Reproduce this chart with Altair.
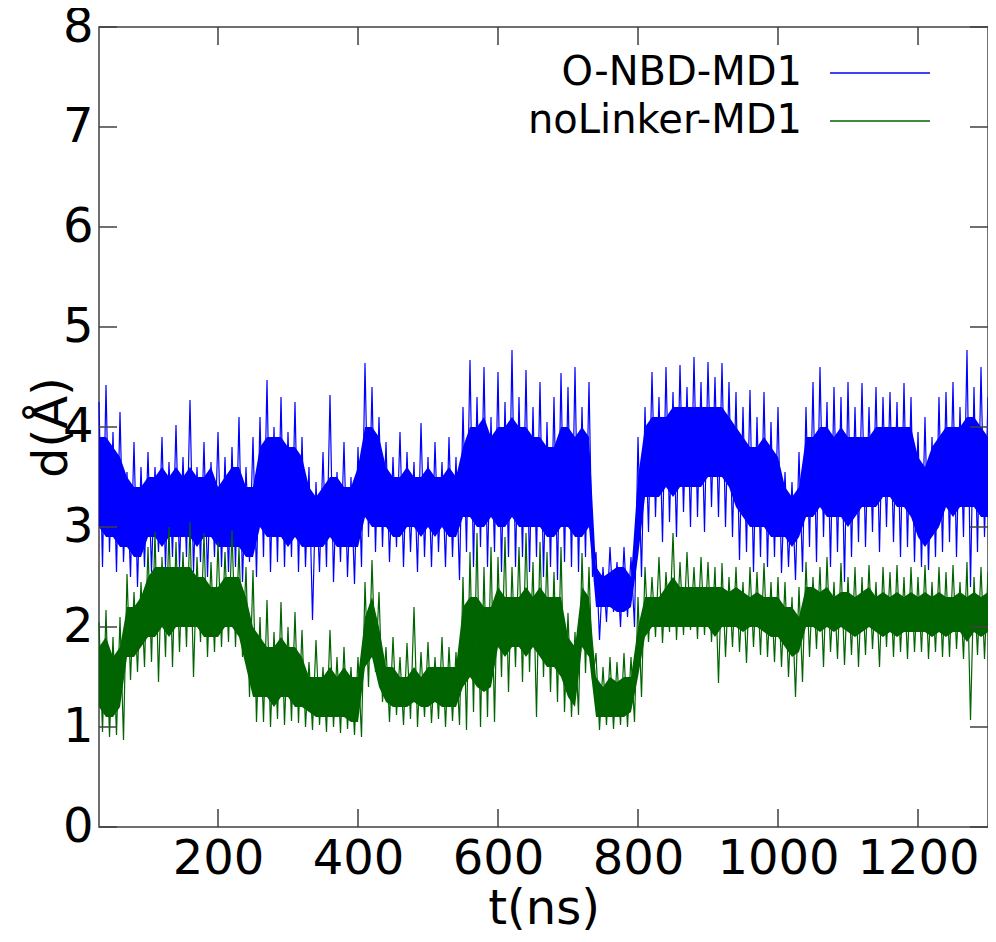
import altair as alt
import pandas as pd

# ---------------- data ----------------
SERIES = ["O-NBD-MD1", "noLinker-MD1"]
COLORS = ["#0000ff", "#006400"]

T_START, T_STEP, T_END = 30, 10, 1300
X_TICKS = [200, 400, 600, 800, 1000, 1200]
Y_TICKS = [0, 1, 2, 3, 4, 5, 6, 7, 8]

# O-NBD-MD1 (every 10 ns from 30 ns): spike tops, spike bottoms (read half a step later),
# and the dense band's top and bottom
BLUE_HI = [4.25, 4.42, 3.95, 4.15, 3.55, 3.85, 3.6, 3.75, 3.6, 3.9, 3.65, 4.02,
           3.7, 4.27, 3.6, 3.85, 3.65, 3.95, 3.7, 3.8, 4.1, 3.6, 3.9,
           4.1, 4.47, 4.0, 4.3, 3.95, 4.25, 3.9, 3.6, 3.45, 3.75, 4.32, 3.55, 3.85, 3.5, 3.8,
           4.64, 4.4, 4.1, 3.85, 3.7, 3.95, 3.75, 3.65, 4.04, 3.7, 3.85, 3.65, 3.9, 3.7,
           4.2, 4.67, 4.3, 4.6, 4.1, 4.55, 4.25, 4.77, 4.3, 4.57, 4.2, 4.45, 4.05, 4.3, 4.54,
           4.4, 4.6, 4.2, 4.45, 2.75, 2.6, 2.8, 2.65, 2.8, 2.7, 3.9,
           4.2, 4.55, 4.3, 4.6, 4.35, 4.62, 4.4, 4.7, 4.45, 4.65, 4.5, 4.64, 4.45, 4.35,
           4.2, 4.37, 4.1, 4.35, 4.05, 4.2, 3.55, 3.45, 3.75,
           4.2, 4.45, 4.6, 4.25, 4.4, 4.3, 4.45, 4.2, 4.44, 4.2, 4.4, 4.3, 4.35, 4.25, 4.44, 4.3,
           3.95, 4.1, 3.9, 4.3, 4.35, 4.45, 4.2, 4.77, 4.4, 4.6, 4.3]
BLUE_LO = [2.6, 2.75, 2.55, 2.65, 2.5, 2.4, 2.6, 2.55, 2.75, 2.6, 2.7, 2.6,
           2.7, 2.55, 2.65, 2.5, 2.7, 2.6, 2.55, 2.6, 2.45, 2.65, 2.5,
           2.7, 2.55, 2.65, 2.6, 2.7, 2.55, 2.6, 2.07, 2.55, 2.6, 2.45, 2.65, 2.5, 2.43, 2.6,
           2.9, 2.75, 2.8, 2.65, 2.8, 2.6, 2.75, 2.55, 2.7, 2.6, 2.75, 2.6, 2.7, 2.47,
           2.75, 2.6, 2.8, 2.6, 2.75, 2.55, 2.7, 2.6, 2.7, 2.55, 2.7, 2.5, 2.6, 2.47, 2.65,
           2.6, 2.55, 2.7, 2.5, 1.87, 2.05, 2.15, 2.0, 2.1, 2.0, 2.5,
           2.95, 3.1, 2.85, 3.05, 2.9, 3.15, 3.0, 3.1, 2.95, 3.2, 3.1, 3.0, 2.9, 2.67,
           2.75, 2.55, 2.7, 2.6, 2.7, 2.54, 2.6, 2.47, 2.55,
           2.8, 2.65, 2.9, 2.6, 2.75, 2.45, 2.7, 2.85, 2.8, 2.95, 2.75, 3.0, 2.85, 2.7, 2.8, 2.65,
           2.6, 2.57, 2.7, 2.75, 2.85, 2.7, 2.9, 2.4, 2.75, 2.9, 3.0]
BLUE_BAND_HI = [3.9, 3.9, 3.8, 3.7, 3.5, 3.4, 3.4, 3.5, 3.5, 3.6, 3.5, 3.6,
                3.5, 3.6, 3.5, 3.5, 3.6, 3.4, 3.5, 3.6, 3.6, 3.4, 3.4,
                3.8, 3.9, 3.9, 3.9, 3.8, 3.8, 3.7, 3.4, 3.3, 3.4, 3.5, 3.5, 3.4, 3.4, 3.6,
                4.0, 4.0, 3.9, 3.6, 3.5, 3.5, 3.6, 3.5, 3.5, 3.6, 3.5, 3.5, 3.6, 3.5,
                3.8, 4.0, 4.0, 4.1, 3.9, 4.0, 4.0, 4.1, 4.0, 4.0, 3.9, 3.9, 3.8, 3.8, 4.0,
                4.0, 3.9, 4.0, 3.9, 2.6, 2.5, 2.55, 2.6, 2.6, 2.5, 3.5,
                4.0, 4.1, 4.1, 4.1, 4.2, 4.2, 4.2, 4.2, 4.2, 4.2, 4.2, 4.2, 4.1, 4.0,
                3.9, 3.8, 3.8, 3.9, 3.8, 3.7, 3.4, 3.3, 3.4,
                3.9, 3.9, 4.0, 4.0, 3.9, 4.0, 3.9, 3.9, 3.9, 3.9, 4.0, 4.0, 4.0, 4.0, 4.0, 4.0,
                3.7, 3.6, 3.8, 3.9, 4.0, 4.0, 4.0, 4.1, 4.1, 4.0, 3.9]
BLUE_BAND_LO = [3.0, 2.9, 2.9, 2.8, 2.8, 2.7, 2.7, 2.9, 2.9, 2.8, 2.9, 2.9,
                2.9, 2.9, 2.8, 2.9, 2.9, 2.8, 2.8, 2.8, 2.8, 2.7, 2.7,
                3.0, 2.9, 2.9, 2.9, 2.8, 2.9, 2.8, 2.8, 2.8, 2.8, 2.9, 2.8, 2.8, 2.8, 2.8,
                3.1, 3.0, 3.0, 3.0, 2.9, 2.9, 3.0, 3.0, 2.9, 3.0, 2.9, 3.0, 2.9, 2.9,
                3.1, 3.1, 3.0, 3.0, 3.1, 3.0, 3.0, 3.1, 3.0, 3.0, 3.0, 3.0, 2.9, 2.9, 3.0,
                3.0, 2.9, 2.9, 3.0, 2.2, 2.2, 2.2, 2.15, 2.15, 2.2, 2.7,
                3.3, 3.3, 3.3, 3.4, 3.3, 3.4, 3.4, 3.4, 3.4, 3.5, 3.5, 3.5, 3.4, 3.2,
                3.1, 3.0, 3.0, 3.0, 2.9, 2.9, 2.9, 2.8, 2.9,
                3.1, 3.1, 3.2, 3.1, 3.1, 3.1, 3.0, 3.1, 3.2, 3.2, 3.2, 3.3, 3.3, 3.2, 3.2, 3.1,
                2.9, 2.8, 2.9, 3.0, 3.2, 3.1, 3.2, 3.2, 3.2, 3.1, 3.1]

# noLinker-MD1
GREEN_HI = [2.05, 2.17, 1.9, 2.1, 2.53, 2.35, 2.45, 2.8, 2.95, 2.7, 3.0, 2.85,
            2.75, 3.05, 2.7, 2.94, 2.65, 2.85, 2.75, 2.97, 2.8, 2.6, 2.57,
            2.1, 2.27, 1.95, 2.25, 2.0, 2.15, 1.97, 1.65, 1.87, 1.6, 1.97, 1.7, 1.8, 1.6, 1.7,
            2.45, 2.67, 2.35, 1.8, 1.9, 1.7, 1.84, 2.2, 1.75, 1.85, 1.7, 1.9, 1.8, 1.75,
            2.5, 2.75, 2.94, 2.6, 2.8, 2.7, 2.9, 2.6, 2.8, 2.94, 2.65, 2.85, 2.75, 2.55, 2.8,
            2.14, 1.95, 2.74, 2.6, 1.74, 1.6, 1.7, 1.65, 1.74, 1.7, 2.3,
            2.6, 2.5, 2.7, 2.55, 2.94, 2.65, 2.75, 2.6, 2.7, 2.65, 2.6,
            2.64, 2.5, 2.6, 2.45, 2.6, 2.55, 2.64, 2.45, 2.5, 2.45, 2.3, 2.4,
            2.65, 2.5, 2.6, 2.7, 2.45, 2.64, 2.5, 2.6, 2.5, 2.62, 2.45, 2.6, 2.55, 2.62, 2.5, 2.6,
            2.5, 2.62, 2.45, 2.6, 2.55, 2.62, 2.45, 2.65, 2.5, 2.6, 2.55]
GREEN_LO = [0.95, 0.9, 0.92, 0.87, 1.47, 1.55, 1.6, 1.65, 1.45, 1.7, 1.6, 1.75,
            1.8, 1.5, 1.85, 1.7, 1.75, 1.8, 1.85, 1.8, 1.7, 1.3, 1.05,
            1.05, 1.0, 1.08, 1.02, 1.06, 1.04, 1.0, 0.97, 1.02, 0.95, 1.0, 0.94, 0.98, 0.92, 0.9,
            1.4, 1.55, 1.25, 1.05, 1.12, 1.02, 1.08, 1.0, 1.1, 1.04, 1.08, 1.0, 1.06, 1.02,
            0.97, 1.15, 1.0, 1.1, 1.05, 1.5, 1.35, 1.6, 1.45, 1.55, 1.1, 1.5, 1.35, 1.25, 1.15,
            1.1, 1.12, 1.54, 1.47, 0.97, 1.02, 0.98, 1.02, 1.0, 1.05, 1.3,
            1.85, 1.9, 1.84, 1.95, 1.87, 1.92, 1.97, 1.88, 1.92, 1.85, 1.44,
            1.7, 1.8, 1.75, 1.64, 1.8, 1.72, 1.7, 1.65, 1.6, 1.5, 1.3, 1.45,
            1.7, 1.78, 1.6, 1.75, 1.68, 1.62, 1.72, 1.6, 1.72, 1.78, 1.6, 1.8, 1.7, 1.75, 1.68, 1.75,
            1.75, 1.68, 1.75, 1.7, 1.7, 1.78, 1.68, 1.07, 1.72, 1.68, 1.75]
GREEN_BAND_HI = [1.8, 1.9, 1.7, 1.8, 2.2, 2.2, 2.3, 2.5, 2.6, 2.6, 2.6, 2.6,
                 2.6, 2.6, 2.5, 2.5, 2.4, 2.4, 2.5, 2.5, 2.5, 2.3, 2.0,
                 1.9, 1.8, 1.8, 1.9, 1.8, 1.8, 1.7, 1.5, 1.5, 1.5, 1.6, 1.5, 1.6, 1.5, 1.5,
                 2.1, 2.3, 2.0, 1.6, 1.6, 1.5, 1.5, 1.6, 1.5, 1.6, 1.6, 1.6, 1.6, 1.6,
                 2.2, 2.3, 2.3, 2.2, 2.2, 2.4, 2.3, 2.3, 2.3, 2.4, 2.3, 2.4, 2.3, 2.3, 2.3,
                 1.9, 1.8, 2.4, 2.3, 1.5, 1.4, 1.5, 1.45, 1.5, 1.5, 2.0,
                 2.3, 2.3, 2.3, 2.4, 2.5, 2.4, 2.4, 2.4, 2.4, 2.4, 2.4,
                 2.4, 2.35, 2.4, 2.35, 2.3, 2.35, 2.3, 2.3, 2.3, 2.2, 2.2, 2.1,
                 2.4, 2.4, 2.35, 2.4, 2.3, 2.35, 2.35, 2.3, 2.35, 2.4, 2.3, 2.35, 2.3, 2.35, 2.3, 2.35,
                 2.3, 2.35, 2.3, 2.35, 2.3, 2.3, 2.35, 2.3, 2.35, 2.3, 2.35]
GREEN_BAND_LO = [1.2, 1.1, 1.1, 1.2, 1.7, 1.7, 1.8, 1.9, 1.9, 2.0, 1.9, 2.0,
                 2.0, 2.0, 2.0, 1.9, 1.9, 1.9, 2.0, 2.0, 1.9, 1.6, 1.3,
                 1.3, 1.3, 1.2, 1.3, 1.3, 1.2, 1.2, 1.15, 1.1, 1.1, 1.1, 1.1, 1.1, 1.05, 1.05,
                 1.6, 1.7, 1.4, 1.25, 1.2, 1.2, 1.2, 1.25, 1.2, 1.2, 1.25, 1.2, 1.2, 1.2,
                 1.4, 1.5, 1.4, 1.35, 1.4, 1.8, 1.7, 1.8, 1.8, 1.7, 1.8, 1.7, 1.6, 1.6, 1.5,
                 1.3, 1.2, 1.8, 1.7, 1.1, 1.1, 1.1, 1.1, 1.1, 1.15, 1.5,
                 1.9, 2.0, 2.0, 2.0, 2.0, 2.0, 2.0, 2.0, 2.0, 2.0, 1.9,
                 2.0, 2.0, 2.0, 1.95, 2.0, 2.0, 1.95, 1.9, 1.9, 1.8, 1.7, 1.75,
                 2.0, 2.0, 1.95, 2.0, 1.95, 2.0, 1.95, 1.9, 1.95, 2.0, 1.95, 1.9, 1.95, 1.9, 1.95, 1.95,
                 1.95, 1.95, 1.9, 1.95, 1.9, 1.95, 1.95, 1.85, 1.95, 1.9, 1.95]

T = list(range(T_START, T_END + 1, T_STEP))
T_LO = [t + T_STEP / 2 for t in T]   # spike bottoms are read half a step later

W, H = 889, 800
FONT = "DejaVu Sans"
FRAME = "#404040"

xscale = alt.Scale(domain=[30, 1300], nice=False, zero=False)
yscale = alt.Scale(domain=[0, 8], nice=False, zero=True)

x_axis = alt.Axis(values=X_TICKS, title="t(ns)", labelFontSize=48, titleFontSize=48,
                  labelFont=FONT, titleFont=FONT, titleFontWeight="normal",
                  tickSize=0, domain=False, grid=False, labelPadding=8,
                  labelColor="black", titleColor="black", titlePadding=2,
                  labelFlush=False, labelOverlap=False, format="d")
y_axis = alt.Axis(values=Y_TICKS, title="d(Å)", labelFontSize=48, titleFontSize=48,
                  labelFont=FONT, titleFont=FONT, titleFontWeight="normal",
                  tickSize=0, domain=False, grid=False, labelPadding=6,
                  labelColor="black", titleColor="black", titlePadding=-14,
                  labelFlush=False, labelOverlap=False, format="d")


def X(field):
    return alt.X(field, scale=xscale, axis=x_axis)


def Y(field):
    return alt.Y(field, scale=yscale, axis=y_axis)


def band_layer(lo, hi, color):
    df = pd.DataFrame({"t": T, "lo": lo, "hi": hi})
    return alt.Chart(df).mark_area(color=color, opacity=1, interpolate="linear").encode(
        x=X("t:Q"), y=Y("lo:Q"), y2="hi:Q")


def spike_layer(lo, hi, color):
    rows = []
    for i in range(len(T)):
        rows.append({"t": T[i], "d": hi[i], "o": 2 * i})
        rows.append({"t": T_LO[i], "d": lo[i], "o": 2 * i + 1})
    df = pd.DataFrame(rows)
    return alt.Chart(df).mark_line(color=color, strokeWidth=1.2).encode(
        x=X("t:Q"), y=Y("d:Q"), order="o:Q")


layers = [
    band_layer(BLUE_BAND_LO, BLUE_BAND_HI, COLORS[0]),
    spike_layer(BLUE_LO, BLUE_HI, COLORS[0]),
    band_layer(GREEN_BAND_LO, GREEN_BAND_HI, COLORS[1]),
    spike_layer(GREEN_LO, GREEN_HI, COLORS[1]),
]

# inward, mirrored ticks (gnuplot style)
xt = pd.DataFrame({"t": X_TICKS})
yt = pd.DataFrame({"d": Y_TICKS})
TL = 18
for y0, y1 in [(H, H - TL), (0, TL)]:
    layers.append(alt.Chart(xt).mark_rule(color=FRAME, strokeWidth=1.5).encode(
        x=X("t:Q"), y=alt.value(y0), y2=alt.value(y1)))
for x0, x1 in [(0, TL), (W, W - TL)]:
    layers.append(alt.Chart(yt).mark_rule(color=FRAME, strokeWidth=1.5).encode(
        y=Y("d:Q"), x=alt.value(x0), x2=alt.value(x1)))

# legend (top right, label then line sample)
for i, (name, col) in enumerate(zip(SERIES, COLORS)):
    ly = 46 + 48 * i
    ldf = pd.DataFrame({"name": [name]})
    layers.append(alt.Chart(ldf).mark_text(align="right", baseline="middle", fontSize=40,
                                           font=FONT, color="black").encode(
        text="name:N", x=alt.value(703), y=alt.value(ly)))
    layers.append(alt.Chart(ldf).mark_rule(color=col, strokeWidth=1.5).encode(
        x=alt.value(731), x2=alt.value(831), y=alt.value(ly)))

chart = alt.layer(*layers).properties(
    width=W, height=H,
    padding={"left": 91, "top": 19, "right": 0, "bottom": 110},
    autosize=alt.AutoSizeParams(type="none"),
    background="white",
).configure_view(stroke=FRAME, strokeWidth=1.5)

chart.save("out.html", embed_options={"renderer": "svg", "actions": False})
